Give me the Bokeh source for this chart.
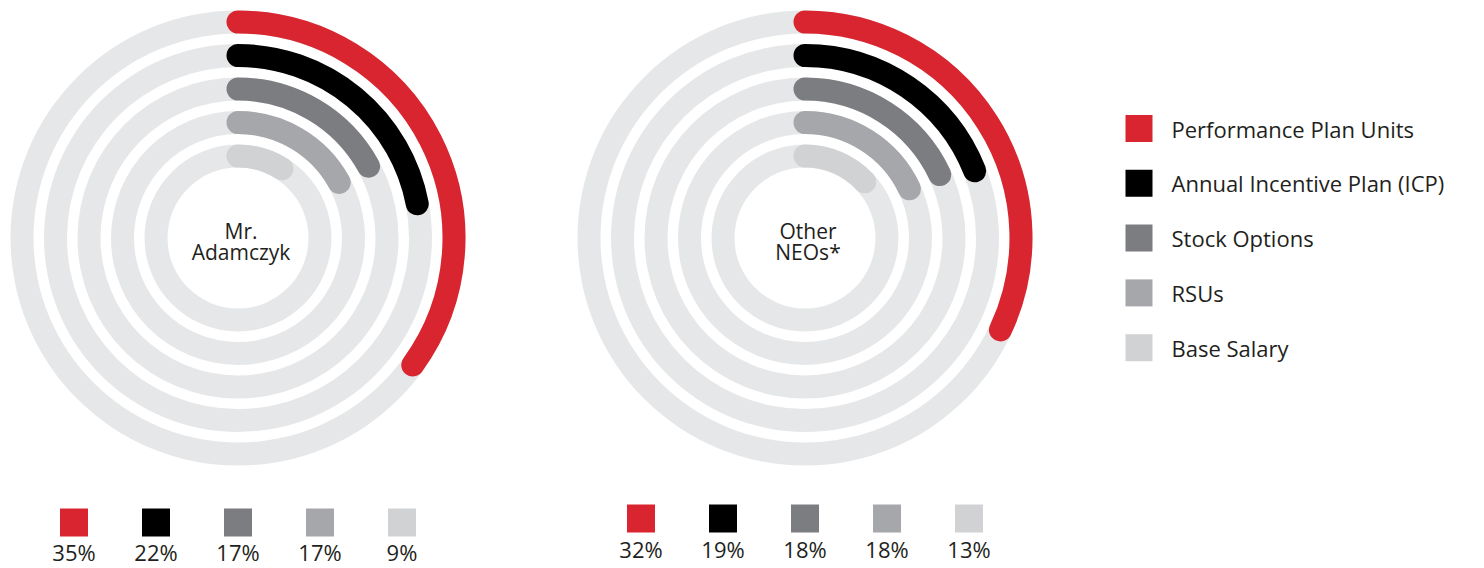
import math
from bokeh.plotting import figure
from bokeh.models import Range1d, ColumnDataSource
from bokeh.core.properties import value
from bokeh.embed import file_html
from bokeh.resources import INLINE

# ---- data ----
categories = ["Performance Plan Units", "Annual Incentive Plan (ICP)", "Stock Options", "RSUs", "Base Salary"]
adamczyk = [35, 22, 17, 17, 9]
other_neos = [32, 19, 18, 18, 13]
chart_titles = [["Mr.", "Adamczyk"], ["Other", "NEOs*"]]
colors = ["#d9252f", "#000000", "#7c7d81", "#a6a7ab", "#d1d2d4"]
track_color = "#e6e7e8"
text_color = "#231f20"
FONT = "Open Sans"

W, H = 1480, 568
p = figure(width=W, height=H, output_backend="svg", toolbar_location=None,
           x_range=Range1d(0, W), y_range=Range1d(0, H), min_border=0)
p.axis.visible = False
p.grid.visible = False
p.outline_line_color = None
p.background_fill_color = "white"

def sy(y):  # screen y -> data y
    return H - y

centers = [(237.5, 237.5), (804.5, 237.5)]
band = 23
pitch = 33.5
outer_center_r = 216
sq_y = [522, 518]
lab_y = [551, 548]

for ci, (vals, (cx, cy), title) in enumerate(zip([adamczyk, other_neos], centers, chart_titles)):
    radii = [outer_center_r - i * pitch for i in range(len(vals))]
    p.annulus(x=[cx] * len(vals), y=[sy(cy)] * len(vals),
              inner_radius=[r - band / 2 for r in radii],
              outer_radius=[r + band / 2 for r in radii],
              fill_color=track_color, line_color=None)
    src = ColumnDataSource(dict(
        x=[cx] * len(vals), y=[sy(cy)] * len(vals), r=radii,
        start=[math.pi / 2] * len(vals),
        end=[math.pi / 2 - 2 * math.pi * v / 100 for v in vals],
        color=colors))
    p.arc(x="x", y="y", radius="r", start_angle="start", end_angle="end",
          direction="clock", line_width=band, line_cap="round", line_color="color", source=src)
    # center title
    p.text(x=[cx + 3, cx + 3], y=[sy(cy - 7), sy(cy + 14)], text=title,
           text_align="center", text_baseline="middle", text_font=value(FONT),
           text_font_size="21px", text_color=text_color)
    # bottom swatches
    xs = [cx + (i - 2) * 82 for i in range(len(vals))]
    p.rect(x=xs, y=[sy(sq_y[ci])] * len(vals), width=28, height=28,
           fill_color=colors, line_color=None)
    p.text(x=xs, y=[sy(lab_y[ci])] * len(vals), text=[f"{v}%" for v in vals],
           text_align="center", text_baseline="middle", text_font=value(FONT),
           text_font_size="22px", text_color=text_color)

# right legend
leg_y = [128 + i * 54.8 for i in range(len(categories))]
p.rect(x=[1138.5] * len(categories), y=[sy(v) for v in leg_y], width=27, height=27,
       fill_color=colors, line_color=None)
p.text(x=[1171] * len(categories), y=[sy(v) for v in leg_y], text=categories,
       text_align="left", text_baseline="middle", text_font=value(FONT),
       text_font_size="22px", text_color=text_color)

open("out.html", "w").write(file_html(p, INLINE))
